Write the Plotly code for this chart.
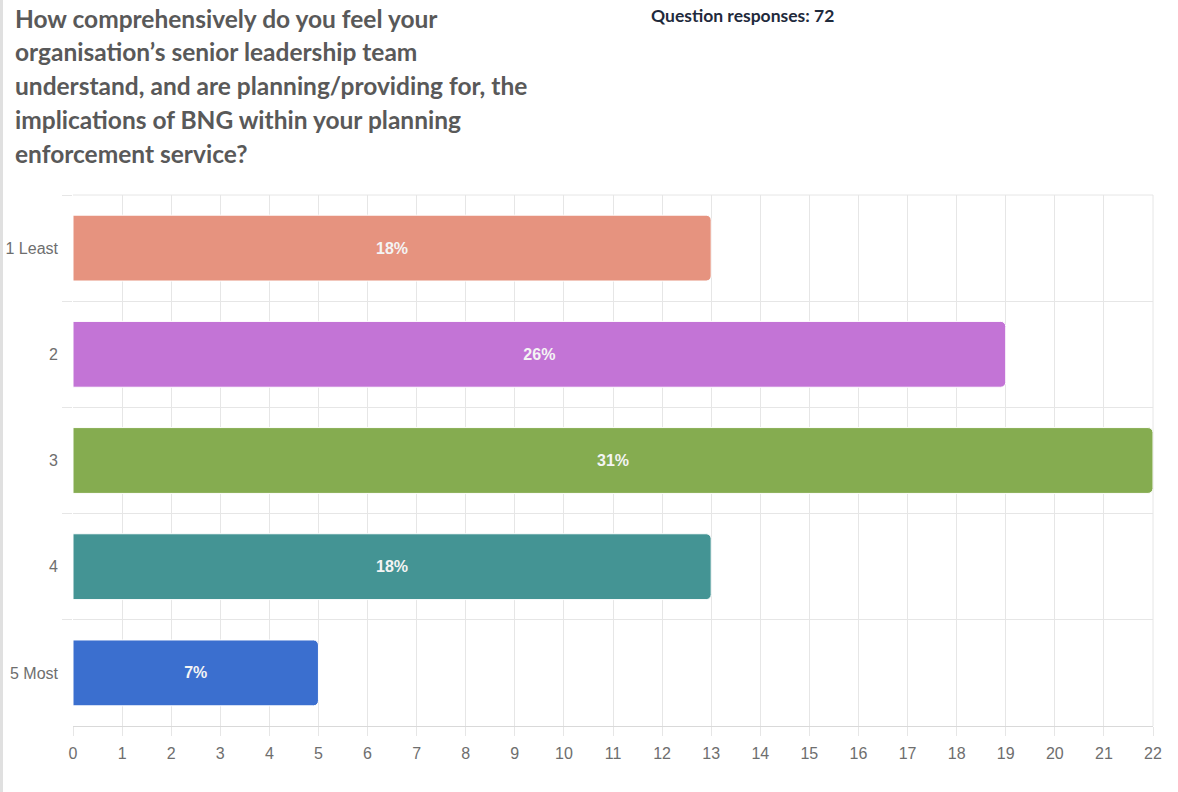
import plotly.graph_objects as go

# Survey responses per rating (72 total)
ratings = ["1 Least", "2", "3", "4", "5 Most"]
counts = [13, 19, 22, 13, 5]
pct_labels = ["18%", "26%", "31%", "18%", "7%"]
bar_colors = ["#E6937F", "#C374D6", "#85AC50", "#449494", "#3B6FCF"]
x_ticks = list(range(0, 23))

title_lines = [
    "How comprehensively do you feel your",
    "organisation\u2019s senior leadership team",
    "understand, and are planning/providing for, the",
    "implications of BNG within your planning",
    "enforcement service?",
]

fig = go.Figure(
    go.Bar(
        x=counts,
        y=ratings,
        orientation="h",
        marker=dict(color=bar_colors, line=dict(color="white", width=1)),
        text=["<b>" + t + "</b>" for t in pct_labels],
        textposition="inside",
        insidetextanchor="middle",
        textangle=0,
        textfont=dict(family="Liberation Sans, Arial, sans-serif", size=16, color="#f4f4f4"),
        cliponaxis=False,
        hoverinfo="skip",
    )
)

grid = "#e6e6e6"
tick_font = dict(family="Liberation Sans, Arial, sans-serif", size=16, color="#6e6e6e")
fig.update_layout(
    width=1178,
    height=792,
    paper_bgcolor="white",
    plot_bgcolor="white",
    margin=dict(l=73, r=25, t=195, b=66, autoexpand=False),
    bargap=0.38,
    barcornerradius=5,
    showlegend=False,
    xaxis=dict(
        range=[0, 22],
        tickvals=x_ticks,
        showgrid=True,
        gridcolor=grid,
        gridwidth=1,
        zeroline=False,
        showline=True,
        linecolor="#d9d9d9",
        ticks="outside",
        ticklen=9,
        tickcolor=grid,
        ticklabelstandoff=4,
        tickfont=tick_font,
        fixedrange=True,
        automargin=False,
    ),
    yaxis=dict(
        autorange="reversed",
        tickson="boundaries",
        showgrid=True,
        gridcolor=grid,
        gridwidth=1,
        zeroline=False,
        ticks="outside",
        ticklen=10,
        tickcolor=grid,
        ticklabelstandoff=14,
        tickfont=tick_font,
        fixedrange=True,
        automargin=False,
    ),
)

# thin frame on the top and right of the plot area
fig.add_shape(type="line", xref="paper", yref="paper", x0=0, x1=1, y0=1, y1=1,
              line=dict(color=grid, width=1), layer="below")
fig.add_shape(type="line", xref="paper", yref="paper", x0=1, x1=1, y0=0, y1=1,
              line=dict(color=grid, width=1), layer="below")
# window edge stripe along the left
fig.add_shape(type="rect", xref="paper", yref="paper", x0=-73 / 1080, x1=-70 / 1080,
              y0=-66 / 531, y1=1 + 195 / 531, line=dict(width=0), fillcolor="#e0e0e0")

for i, line in enumerate(title_lines):
    fig.add_annotation(
        text="<b>" + line + "</b>",
        xref="paper", yref="paper",
        x=-60 / 1080, y=1 + (195 - 18 - i * 33.8) / 531,
        xanchor="left", yanchor="middle",
        showarrow=False,
        font=dict(family="Lato, Open Sans, sans-serif", size=24.5, color="#595959"),
    )

fig.add_annotation(
    text="<b>Question responses: 72</b>",
    xref="paper", yref="paper",
    x=(649 - 73) / 1080, y=1 + (195 - 15) / 531,
    xanchor="left", yanchor="middle",
    showarrow=False,
    font=dict(family="Lato, Open Sans, sans-serif", size=17.5, color="#1F2A3C"),
)

fig.write_html("out.html")
